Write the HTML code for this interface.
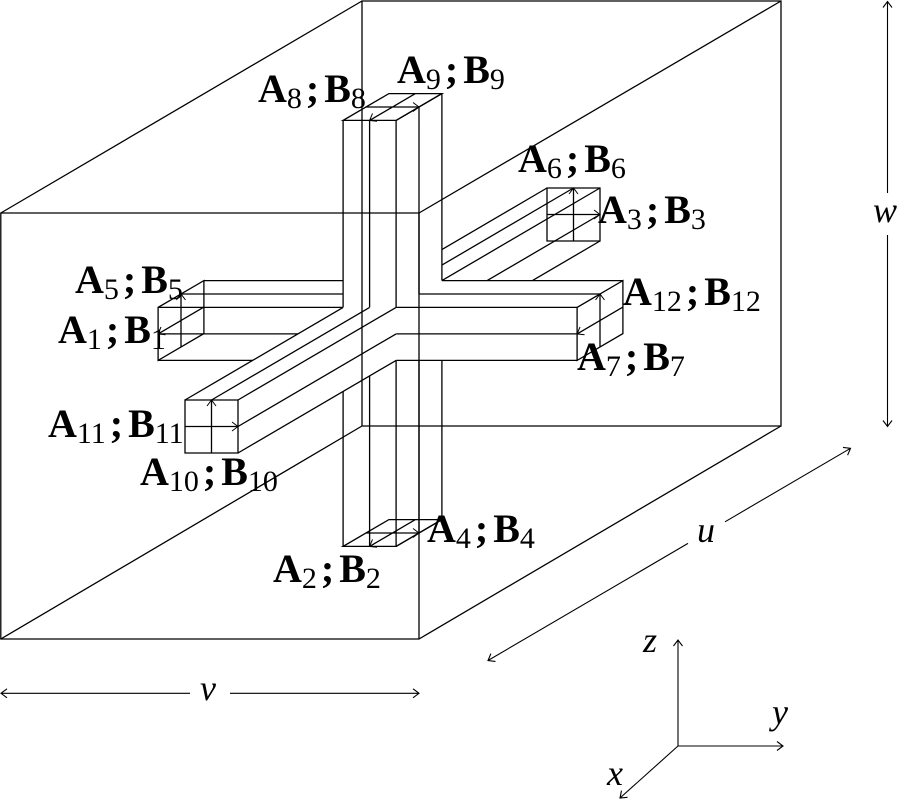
<!DOCTYPE html>
<html>
<head>
<meta charset="utf-8">
<style>
html,body{margin:0;padding:0;background:#fff}
svg{display:block}
.lab{font-family:"Liberation Serif",serif;font-weight:bold;font-size:40px;fill:#000}
.s{font-weight:normal;font-size:30px}
.it{font-family:"Liberation Serif",serif;font-style:italic;font-size:36px;fill:#000}
</style>
</head>
<body>
<svg width="900" height="800" viewBox="0 0 900 800" xmlns="http://www.w3.org/2000/svg">
<rect width="900" height="800" fill="#fff"/>

<g stroke="#000" stroke-width="1.3" fill="none">
<!-- Back arm B -->
<polygon fill="#fff" stroke="none" points="388.9,280.6 441.9,280.6 600,188 547,188"/>
<polygon fill="#fff" stroke="none" points="441.9,333.6 441.9,280.6 600,188 600,241"/>
<path d="M388.9,280.6L547,188M441.9,280.6L600,188M415.4,280.6L573.5,188M441.9,333.6L600,241M441.9,307.1L600,214.5"/>

<!-- Left arm L -->
<polygon fill="#fff" stroke="none" points="158.1,360.4 343.1,360.4 343.1,307.4 158.1,307.4"/>
<polygon fill="#fff" stroke="none" points="158.1,307.4 343.1,307.4 388.9,280.6 203.9,280.6"/>
<path d="M158.1,307.4H343.1M158.1,360.4H343.1M158.1,333.9H343.1M203.9,280.6H388.9M181,294H366"/>

<!-- Down arm -->
<polygon fill="#fff" stroke="none" points="343.1,546.4 396.1,546.4 396.1,360.4 343.1,360.4"/>
<polygon fill="#fff" stroke="none" points="396.1,546.4 441.9,519.6 441.9,333.6 396.1,360.4"/>
<path d="M343.1,360.4V546.4M396.1,360.4V546.4M369.6,360.4V546.4M441.9,333.6V519.6M396.1,546.4L441.9,519.6M419,347V533"/>

<!-- Up arm -->
<polygon fill="#fff" stroke="none" points="343.1,307.4 396.1,307.4 396.1,120.4 343.1,120.4"/>
<polygon fill="#fff" stroke="none" points="396.1,307.4 441.9,280.6 441.9,93.6 396.1,120.4"/>
<path d="M343.1,120.4V307.4M396.1,120.4V307.4M369.6,120.4V307.4M441.9,93.6V280.6M396.1,120.4L441.9,93.6M419,107V294"/>

<!-- Right arm -->
<polygon fill="#fff" stroke="none" points="396.1,360.4 577.1,360.4 577.1,307.4 396.1,307.4"/>
<polygon fill="#fff" stroke="none" points="396.1,307.4 577.1,307.4 622.9,280.6 441.9,280.6"/>
<path d="M396.1,307.4H577.1M396.1,360.4H577.1M396.1,333.9H577.1M441.9,280.6H622.9M419,294H600"/>

<!-- Front arm -->
<polygon fill="#fff" stroke="none" points="185,400 238,400 396.1,307.4 343.1,307.4"/>
<polygon fill="#fff" stroke="none" points="238,453 238,400 396.1,307.4 396.1,360.4"/>
<path d="M185,400L343.1,307.4M238,400L396.1,307.4M211.5,400L369.6,307.4M238,453L396.1,360.4M238,426.5L396.1,333.9"/>

<!-- Caps -->
<path d="M343.1,120.4H396.1L441.9,93.6H388.9Z M366,107H419 M369.6,120.4L415.4,93.6"/>
<path d="M343.1,546.4H396.1L441.9,519.6H388.9Z M366,533H419 M369.6,546.4L415.4,519.6"/>
<path d="M158.1,360.4V307.4L203.9,280.6V333.6Z M158.1,333.9L203.9,307.1 M181,347V294"/>
<path d="M577.1,360.4V307.4L622.9,280.6V333.6Z M577.1,333.9L622.9,307.1 M600,347V294"/>
<path d="M185,400H238V453H185Z M211.5,400V453 M185,426.5H238"/>
<path d="M547,188H600V241H547Z M573.5,188V241 M547,214.5H600"/>

<!-- Cube wireframe -->
<path d="M0.8,213H419V639H0.8Z M362,1H781V426H362Z M0.8,213L362,1 M419,213L781,1 M419,639L781,426 M0.8,639L362,426"/>
</g>

<!-- Cap arrowheads -->
<g stroke="#000" stroke-width="1" fill="none">
<path d="M413,102.5L419,107L413,111.5 M377.05,121.25L369.6,120.4L372.51,113.49"/>
<path d="M413,528.5L419,533L413,537.5 M377.05,547.25L369.6,546.4L372.51,539.49"/>
<path d="M176.5,300L181,294L185.5,300 M165.55,334.75L158.1,333.9L161.01,326.99"/>
<path d="M595.5,300L600,294L604.5,300 M584.55,334.75L577.1,333.9L580.01,326.99"/>
<path d="M207,406L211.5,400L216,406 M232,422L238,426.5L232,431"/>
<path d="M569,194L573.5,188L578,194 M594,210L600,214.5L594,219"/>
</g>

<!-- Dimension lines and axes -->
<g stroke="#000" stroke-width="1.1" fill="none">
<path d="M887.5,1.5V193 M887.5,235V426.5 M883,7.5L887.5,1.5L892,7.5 M883,420.5L887.5,426.5L892,420.5"/>
<path d="M1,693.3H190 M230,693.3H419 M7,688.8L1,693.3L7,697.8 M413,688.8L419,693.3L413,697.8"/>
<path d="M488,660.5L688,543.4 M725,521.8L850.5,448.3 M847.6,455.2L850.5,448.3L843,447.4 M495.5,661.4L488,660.5L490.9,653.6"/>
<path d="M678,746V640 M678,746H783 M678,746L620,798 M673.5,646L678,640L682.5,646 M777,741.5L783,746L777,750.5 M627.5,797.3L620,798L621.5,790.6"/>
</g>

<!-- Italic labels -->
<text class="it" x="873" y="222">w</text>
<text class="it" x="697" y="542">u</text>
<text class="it" x="200" y="700">v</text>
<text class="it" x="643" y="652">z</text>
<text class="it" x="772" y="724">y</text>
<text class="it" x="607" y="785">x</text>

<!-- A/B labels -->
<text class="lab" x="258" y="102">A<tspan class="s" dy="6">8</tspan><tspan dx="4" dy="-6">;</tspan><tspan dx="5">B</tspan><tspan class="s" dy="6">8</tspan></text>
<text class="lab" x="397" y="83">A<tspan class="s" dy="6">9</tspan><tspan dx="4" dy="-6">;</tspan><tspan dx="5">B</tspan><tspan class="s" dy="6">9</tspan></text>
<text class="lab" x="518" y="172">A<tspan class="s" dy="6">6</tspan><tspan dx="4" dy="-6">;</tspan><tspan dx="5">B</tspan><tspan class="s" dy="6">6</tspan></text>
<text class="lab" x="598" y="223">A<tspan class="s" dy="6">3</tspan><tspan dx="4" dy="-6">;</tspan><tspan dx="5">B</tspan><tspan class="s" dy="6">3</tspan></text>
<text class="lab" x="623" y="305">A<tspan class="s" dy="6">12</tspan><tspan dx="4" dy="-6">;</tspan><tspan dx="5">B</tspan><tspan class="s" dy="6">12</tspan></text>
<text class="lab" x="577" y="370">A<tspan class="s" dy="6">7</tspan><tspan dx="4" dy="-6">;</tspan><tspan dx="5">B</tspan><tspan class="s" dy="6">7</tspan></text>
<text class="lab" x="75" y="293">A<tspan class="s" dy="6">5</tspan><tspan dx="4" dy="-6">;</tspan><tspan dx="5">B</tspan><tspan class="s" dy="6">5</tspan></text>
<text class="lab" x="58" y="343">A<tspan class="s" dy="6">1</tspan><tspan dx="4" dy="-6">;</tspan><tspan dx="5">B</tspan><tspan class="s" dy="6">1</tspan></text>
<text class="lab" x="48" y="437">A<tspan class="s" dy="6">11</tspan><tspan dx="4" dy="-6">;</tspan><tspan dx="5">B</tspan><tspan class="s" dy="6">11</tspan></text>
<text class="lab" x="140" y="485">A<tspan class="s" dy="6">10</tspan><tspan dx="4" dy="-6">;</tspan><tspan dx="5">B</tspan><tspan class="s" dy="6">10</tspan></text>
<text class="lab" x="427" y="542">A<tspan class="s" dy="6">4</tspan><tspan dx="4" dy="-6">;</tspan><tspan dx="5">B</tspan><tspan class="s" dy="6">4</tspan></text>
<text class="lab" x="273" y="582">A<tspan class="s" dy="6">2</tspan><tspan dx="4" dy="-6">;</tspan><tspan dx="5">B</tspan><tspan class="s" dy="6">2</tspan></text>
</svg>
</body>
</html>
